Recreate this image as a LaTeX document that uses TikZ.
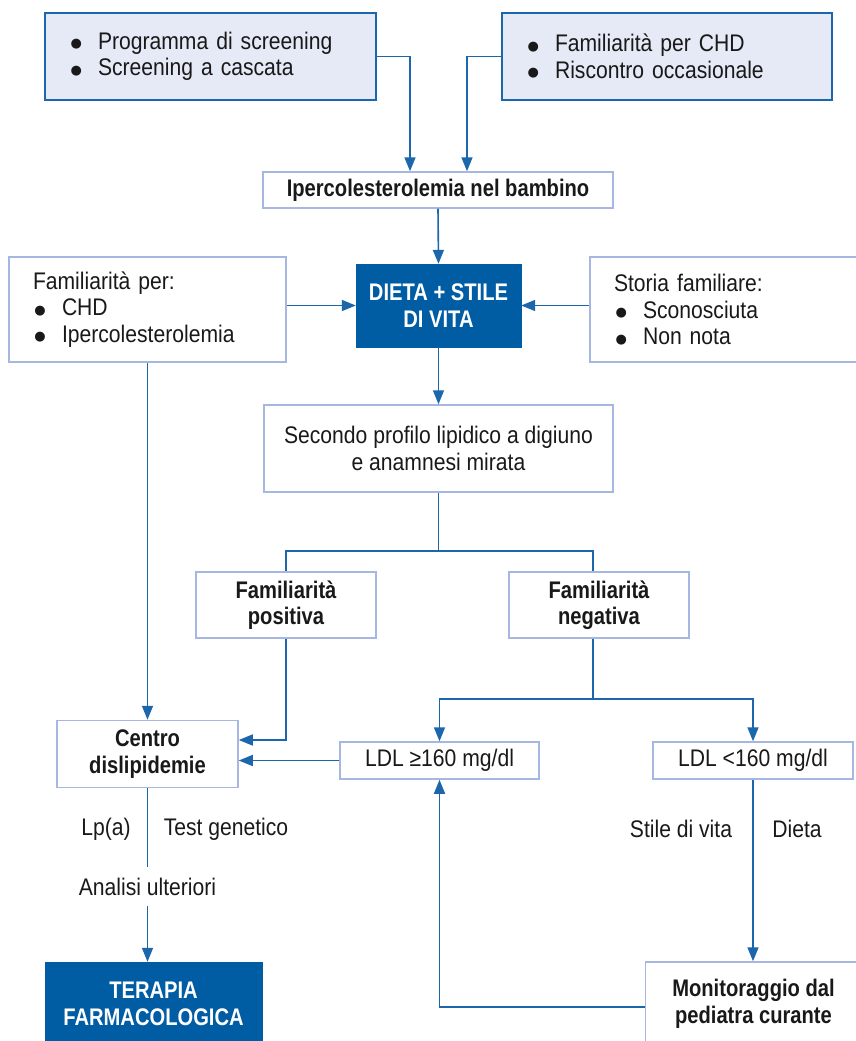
\documentclass[tikz,border=0pt]{standalone}
\usepackage{fontspec}
\setmainfont{Liberation Sans}[FakeStretch=0.88, BoldFeatures={FakeStretch=0.84}]
\newfontfamily\dejavu{DejaVu Sans}
\usetikzlibrary{arrows.meta}
\definecolor{lineblue}{RGB}{28,102,172}
\definecolor{darkblue}{RGB}{0,93,164}
\definecolor{lightfill}{RGB}{230,234,246}
\definecolor{lightborder}{RGB}{166,184,226}
\newcommand{\bul}{\makebox[29pt][l]{\hspace{1.5pt}\raisebox{1.5pt}{\dejavu\fontsize{13}{13}\selectfont ●}}}
\begin{document}
\begin{tikzpicture}[x=1pt,y=-1pt,
  font=\fontsize{24}{26.5}\selectfont,
  every node/.style={inner sep=0pt, text=black!90},
  bfnt/.style={font=\fontsize{24}{26.5}\selectfont\bfseries},
  topbox/.style={draw=lineblue, line width=1.7pt, fill=lightfill, align=left, inner xsep=24pt, inner ysep=0pt},
  lbox/.style={draw=lightborder, line width=1.5pt, fill=white, align=left, inner xsep=24pt, inner ysep=0pt},
  cbox/.style={draw=lightborder, line width=1.5pt, fill=white, align=center},
  dbox/.style={draw=darkblue, fill=darkblue, align=center, text=white, bfnt},
  lab/.style={align=center},
  conn/.style={draw=lineblue, line width=1.6pt},
  arr/.style={conn, -{Triangle[length=14pt,width=11pt]}}
]
\useasboundingbox (0,0) rectangle (856,1041);

% top boxes
\node[topbox, text width=283pt, minimum height=87pt] (A) at (210.5,56.5)
  {\bul Programma di screening\\ \bul Screening a cascata};
\node[topbox, text width=282pt, minimum height=87pt] (B) at (667,56.5)
  {\bul Familiarità per CHD\\ \bul Riscontro occasionale};

\node[cbox, bfnt, minimum width=350pt, minimum height=36pt] (C) at (438,190)
  {Ipercolesterolemia nel bambino};

\node[dbox, minimum width=165pt, minimum height=83pt] (D) at (438.5,305.5)
  {DIETA + STILE\\DI VITA};

\node[lbox, text width=229pt, minimum height=105pt] (L) at (147.5,309.5)
  {Familiarità per:\\ \bul CHD\\ \bul Ipercolesterolemia};
\node[lbox, text width=221pt, minimum height=105pt] (R) at (724.5,309.5)
  {Storia familiare:\\ \bul Sconosciuta\\ \bul Non nota};

\node[cbox, minimum width=349pt, minimum height=87pt] (S) at (438.5,448.5)
  {Secondo profilo lipidico a digiuno\\e anamnesi mirata};

\node[cbox, bfnt, minimum width=180pt, minimum height=66pt] (FP) at (286,605)
  {Familiarità\\positiva};
\node[cbox, bfnt, minimum width=180pt, minimum height=66pt] (FN) at (599,605)
  {Familiarità\\negativa};

\node[cbox, bfnt, minimum width=181pt, minimum height=67pt] (CE) at (147.5,754)
  {Centro\\dislipidemie};

\node[cbox, minimum width=199pt, minimum height=37pt] (LGE) at (439.5,760.5)
  {LDL ≥160 mg/dl};
\node[cbox, minimum width=200pt, minimum height=37pt] (LLT) at (753,760.5)
  {LDL <160 mg/dl};

\node[dbox, minimum width=217pt, minimum height=84pt] (TER) at (153.5,1004)
  {TERAPIA\\FARMACOLOGICA};
\node[cbox, bfnt, minimum width=216pt, minimum height=84pt] (MON) at (753.5,1004)
  {Monitoraggio dal\\pediatra curante};

% labels
\node[lab, minimum height=39pt] (AN) at (147.5,886.5) {Analisi ulteriori};
\node[lab] (LPA) at (106,829) {Lp(a)};
\node[lab] (TG) at (226,829) {Test genetico};
\node[lab] (SV) at (681,829) {Stile di vita};
\node[lab] (DI) at (797,829) {Dieta};

\coordinate (split1) at (438.5,551);
\coordinate (split2) at (593,699);

% connectors
\draw[arr] (A.east) -| ([xshift=-28pt]C.north);
\draw[arr] (B.west) -| ([xshift=29pt]C.north);
\draw[arr] (C.south) -- (D.north);
\draw[arr] (L.east |- D.west) -- (D.west);
\draw[arr] (R.west |- D.east) -- (D.east);
\draw[arr] (D.south) -- (S.north);
\draw[conn] (S.south) -- (split1);
\draw[conn] (split1) -| (FP.north);
\draw[conn] (split1) -| (split1 -| split2) -- (split2 |- FN.north);
\draw[arr] (L.south) -- (CE.north);
\draw[arr] (FP.south) |- ([yshift=14pt]CE.east);
\draw[conn] (split2 |- FN.south) -- (split2);
\draw[arr] (split2) -| (LGE.north);
\draw[arr] (split2) -| (LLT.north);
\draw[arr] (LGE.west) -- (LGE.west -| CE.east);
\draw[conn] (CE.south) -- (AN.north);
\draw[arr] (AN.south) -- (AN.south |- TER.north);
\draw[arr] (LLT.south) -- (LLT.south |- MON.north);
\draw[arr] ([yshift=-3pt]MON.west) -| (LGE.south);
\end{tikzpicture}
\end{document}
